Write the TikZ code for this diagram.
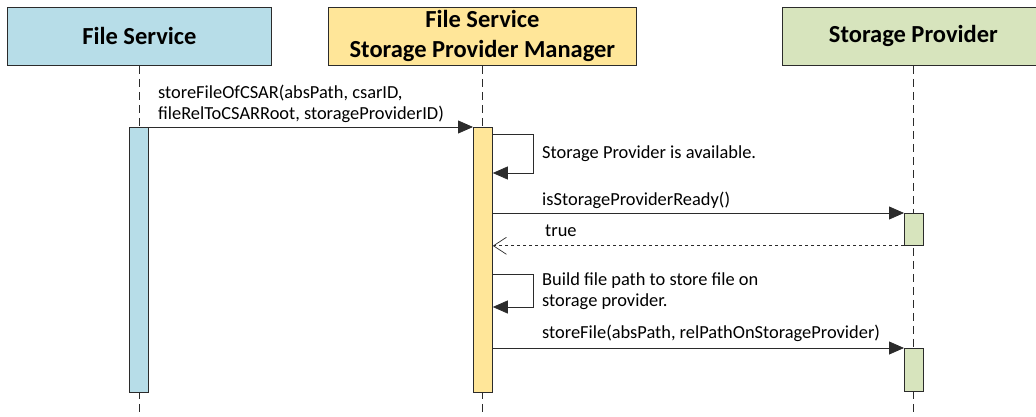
\documentclass[tikz,border=0pt]{standalone}
\usepackage{fontspec}
\setmainfont{Carlito}
\usetikzlibrary{arrows.meta}
\definecolor{fsblue}{HTML}{B7DDE8}
\definecolor{mgryellow}{HTML}{FFE699}
\definecolor{spgreen}{HTML}{D7E4BD}
\definecolor{edge}{HTML}{2B2B2B}
\tikzset{
  head/.style={draw=edge, line width=0.8pt, minimum height=58pt, inner sep=0pt,
    font=\fontsize{24.5}{30}\selectfont\bfseries, align=center, anchor=north west},
  lifeline/.style={draw=edge, line width=0.8pt, dash pattern=on 8pt off 5pt},
  actbar/.style={draw=edge, line width=0.8pt, minimum width=19pt, inner sep=0pt, anchor=north west},
  msg/.style={draw=edge, line width=0.8pt, -{Triangle[length=15pt,width=13pt]}},
  reply/.style={draw=edge, line width=0.8pt, dashed, -{Straight Barb[length=13pt,width=17pt,line width=0.7pt]}},
  lbl/.style={font=\fontsize{18.4}{21}\selectfont, anchor=west, inner sep=0pt, align=left}
}
\begin{document}
\begin{tikzpicture}[x=1pt,y=-1pt]
\useasboundingbox (0,0) rectangle (1036,417);
\clip (0,0) rectangle (1036,417);

% participant heads
\node[head, fill=fsblue, minimum width=264pt] (fs) at (7,7) {File Service};
\node[head, fill=mgryellow, minimum width=308pt] (mgr) at (328,7) {File Service\\Storage Provider Manager};
\node[head, fill=spgreen, minimum width=262pt] (sp) at (782,7) {Storage Provider};

% lifeline ends
\coordinate (fsEnd) at (139,417);
\coordinate (mgrEnd) at (482,417);
\coordinate (spEnd) at (913,417);
\draw[lifeline] (fs.south -| fsEnd) -- (fsEnd);
\draw[lifeline] (mgr.south -| mgrEnd) -- (mgrEnd);
\draw[lifeline] (sp.south -| spEnd) -- (spEnd);

% activation bars
\node[actbar, fill=fsblue, minimum height=265pt] (fsA) at (129,127) {};
\node[actbar, fill=mgryellow, minimum height=265pt] (mgrA) at (473,127) {};
\node[actbar, fill=spgreen, minimum height=32pt] (spA1) at (904,213) {};
\node[actbar, fill=spgreen, minimum height=43pt] (spA2) at (904,348) {};

% storeFileOfCSAR call
\draw[msg] (fsA.north east) -- (mgrA.north west);
\node[lbl] (l1) at (158,104) {storeFileOfCSAR(absPath, csarID,\\fileRelToCSARRoot, storageProviderID)};

% self call: availability check
\coordinate (s1a) at (533,134);
\coordinate (s1b) at (533,173);
\draw[msg] (mgrA.east |- s1a) -- (s1a) -- (s1b) -- (mgrA.east |- s1b);
\node[lbl] (l2) at (542,154) {Storage Provider is available.};

% readiness query and reply
\draw[msg] (mgrA.east |- spA1.north west) -- (spA1.north west);
\node[lbl] (l3) at (542,200) {isStorageProviderReady()};
\draw[reply] (spA1.south west) -- (mgrA.east |- spA1.south west);
\node[lbl] (l4) at (545,231) {true};

% self call: build path
\coordinate (s2a) at (533,274);
\coordinate (s2b) at (533,307);
\draw[msg] (mgrA.east |- s2a) -- (s2a) -- (s2b) -- (mgrA.east |- s2b);
\node[lbl] (l5) at (542,291) {Build file path to store file on\\storage provider.};

% storeFile call
\draw[msg] (mgrA.east |- spA2.north west) -- (spA2.north west);
\node[lbl] (l6) at (542,333) {storeFile(absPath, relPathOnStorageProvider)};
\end{tikzpicture}
\end{document}
